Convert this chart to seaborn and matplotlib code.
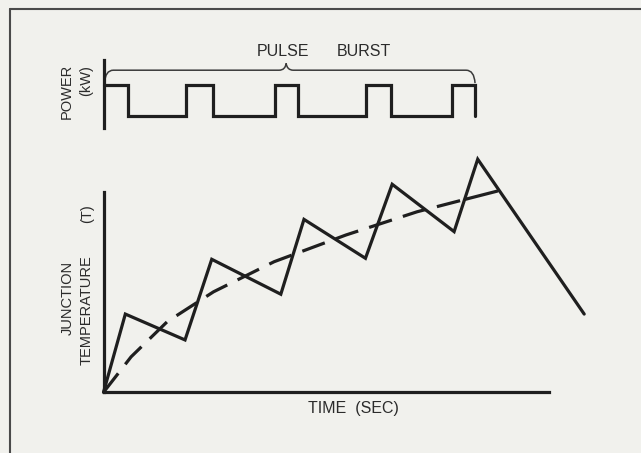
import numpy as np
import pandas as pd
import matplotlib
matplotlib.use("Agg")
import matplotlib.pyplot as plt
from matplotlib.lines import Line2D
from matplotlib.path import Path
from matplotlib.patches import PathPatch
import seaborn as sns

# ---- data (time in arbitrary units, 0-100 across the time axis) ----
# junction temperature: heats during each pulse, cools between pulses
temp_time = [0, 4.9, 18.3, 24.3, 39.8, 45.0, 58.8, 64.8, 78.7, 84.0, 107.9]
temp_value = [0, 39.0, 26.1, 66.3, 48.9, 86.2, 66.8, 103.7, 80.1, 116.2, 39.0]

# average temperature trend
avg_time = [0, 6.2, 14.3, 24.7, 38.3, 54.4, 70.4, 81.2]
avg_value = [0, 17.7, 35.2, 50.1, 65.1, 78.4, 90.0, 96.2]
avg_tail_time = [81.2, 88.4]
avg_tail_value = [96.2, 100.3]

# power pulse burst
pulse_on = [0, 18.5, 38.5, 58.9, 78.2]
pulse_off = [5.5, 24.6, 43.7, 64.5, 83.4]
power_high = 6.3
power_low = 1.7

W, H = 641, 453
BG = "#f1f1ed"
INK = "#1f1f1f"
TXT = "#2b2b2b"

sns.set_theme(style="white")
plt.rcParams["font.family"] = ["Liberation Sans", "DejaVu Sans"]

fig = plt.figure(figsize=(W / 100, H / 100), dpi=100)
fig.patch.set_facecolor(BG)


def frac(x, y):
    return x / W, 1 - y / H


# axes placement (pixels)
x0, x1 = 103.5, 549.0
ax_t = fig.add_axes([x0 / W, (H - 392.3) / H, (x1 - x0) / W, (392.3 - 191.7) / H])
ax_p = fig.add_axes([x0 / W, (H - 128) / H, (x1 - x0) / W, (128 - 60) / H])

for ax in (ax_t, ax_p):
    ax.set_facecolor("none")
    ax.set_xlim(0, 100)
    ax.set_xticks([])
    ax.set_yticks([])
    ax.set_xlabel("")
    ax.set_ylabel("")
    for s in ax.spines.values():
        s.set_visible(False)

ax_t.set_ylim(0, 100)
ax_p.set_ylim(0, 10)

LW = 2.3
for sp in ("left", "bottom"):
    ax_t.spines[sp].set_visible(True)
    ax_t.spines[sp].set_linewidth(LW)
    ax_t.spines[sp].set_color(INK)
ax_p.spines["left"].set_visible(True)
ax_p.spines["left"].set_linewidth(LW)
ax_p.spines["left"].set_color(INK)

# temperature trace
temp_df = pd.DataFrame({"t": temp_time, "T": temp_value})
sns.lineplot(data=temp_df, x="t", y="T", ax=ax_t, sort=False, estimator=None,
             color=INK, linewidth=LW, clip_on=False)
ax_t.lines[-1].set_solid_joinstyle("miter")

# average trend (dashed) with its solid end piece
avg_df = pd.DataFrame({"t": avg_time, "T": avg_value})
sns.lineplot(data=avg_df, x="t", y="T", ax=ax_t, sort=False, estimator=None,
             color=INK, linewidth=LW, clip_on=False)
ax_t.lines[-1].set_dashes([7.5, 3.6])
ax_t.lines[-1].set_dash_capstyle("butt")
tail_df = pd.DataFrame({"t": avg_tail_time, "T": avg_tail_value})
sns.lineplot(data=tail_df, x="t", y="T", ax=ax_t, sort=False, estimator=None,
             color=INK, linewidth=LW, clip_on=False)

# power waveform built from pulse edges
pw_t, pw_p = [], []
for i, (on, off) in enumerate(zip(pulse_on, pulse_off)):
    if i > 0:
        pw_t.append(on)
        pw_p.append(power_low)
    pw_t += [on, off, off]
    pw_p += [power_high, power_high, power_low]
    if i + 1 < len(pulse_on):
        pw_t.append(pulse_on[i + 1])
        pw_p.append(power_low)
pw_df = pd.DataFrame({"t": pw_t, "P": pw_p})
sns.lineplot(data=pw_df, x="t", y="P", ax=ax_p, sort=False, estimator=None,
             color=INK, linewidth=LW, clip_on=False)
ax_p.lines[-1].set_solid_joinstyle("miter")

# brace over the pulse burst
bl, br = pulse_on[0] + 0.2, pulse_off[-1]
tip = 41.0
yb, ylev, ytip = 6.6, 8.5, 9.5
verts = [(bl, yb), (bl + 0.2, ylev), (bl + 2.0, ylev),
         (tip - 1.6, ylev), (tip - 0.2, ylev), (tip, ytip),
         (tip + 0.2, ylev), (tip + 1.6, ylev),
         (br - 2.0, ylev), (br - 0.2, ylev), (br, yb)]
codes = [Path.MOVETO, Path.CURVE3, Path.CURVE3,
         Path.LINETO, Path.CURVE3, Path.CURVE3,
         Path.CURVE3, Path.CURVE3,
         Path.LINETO, Path.CURVE3, Path.CURVE3]
ax_p.add_patch(PathPatch(Path(verts, codes), fill=False, edgecolor="#3a3a3a",
                         linewidth=1.1, clip_on=False))

# labels
fig.text(*frac(283, 51), "PULSE", ha="center", va="center", fontsize=11.5, color=TXT)
fig.text(*frac(364, 51), "BURST", ha="center", va="center", fontsize=11.5, color=TXT)
fig.text(*frac(353, 409), "TIME  (SEC)", ha="center", va="center", fontsize=11.5, color=TXT)
fig.text(*frac(67, 91), "POWER", ha="center", va="center", rotation=90, fontsize=10.5, color=TXT)
fig.text(*frac(86, 81), "(kW)", ha="center", va="center", rotation=90, fontsize=10.5, color=TXT)
fig.text(*frac(68, 298), "JUNCTION", ha="center", va="center", rotation=90, fontsize=10.5, color=TXT)
fig.text(*frac(87, 310), "TEMPERATURE", ha="center", va="center", rotation=90, fontsize=10.5, color=TXT)
fig.text(*frac(87, 214), "(T)", ha="center", va="center", rotation=90, fontsize=10.5, color=TXT)

# page border (top and left edges)
fig.add_artist(Line2D([9.5 / W, 1.0], [1 - 8.5 / H, 1 - 8.5 / H],
                      transform=fig.transFigure, color="#4a4a4a", linewidth=1.5))
fig.add_artist(Line2D([9.5 / W, 9.5 / W], [1 - 8.5 / H, 0.0],
                      transform=fig.transFigure, color="#4a4a4a", linewidth=1.5))

fig.savefig("out.png", dpi=100, facecolor=BG)
